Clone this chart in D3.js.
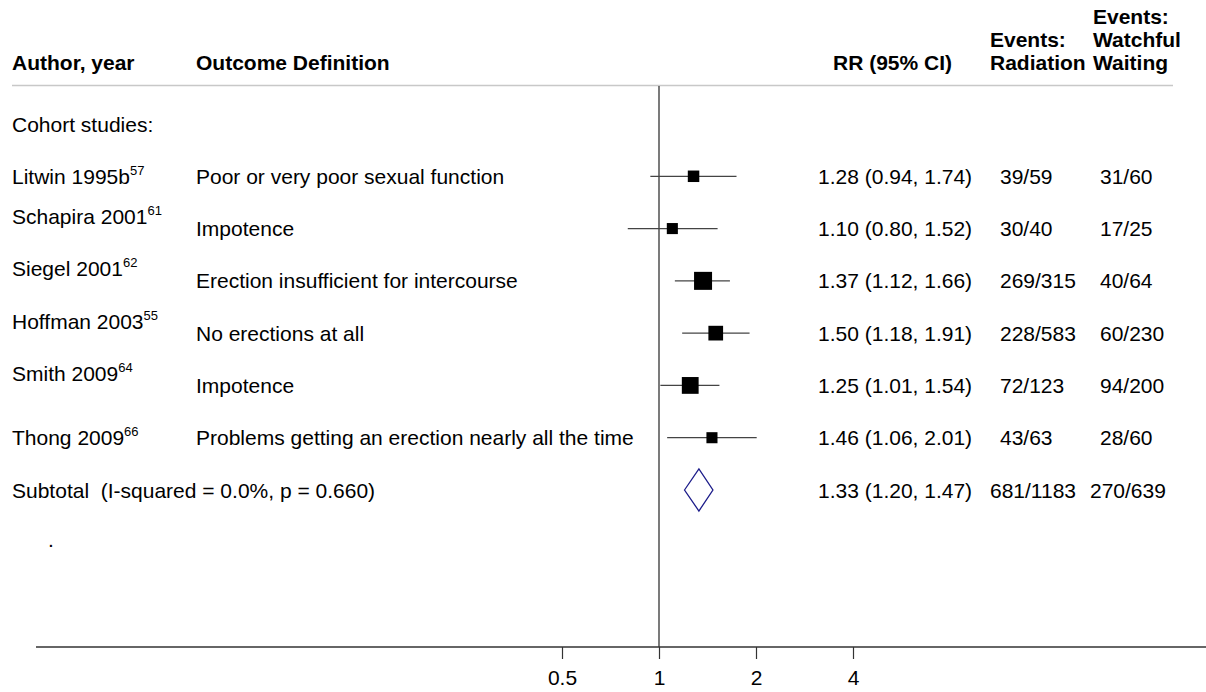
<!DOCTYPE html>
<html>
<head>
<meta charset="utf-8">
<script src="https://cdn.jsdelivr.net/npm/d3@7"></script>
<style>
  body { margin: 0; background: #fff; }
  svg text { font-family: "Liberation Sans", Arial, sans-serif; fill: #000; white-space: pre; }
</style>
</head>
<body>
<div id="chart"></div>
<script>
var width = 1206,
    height = 692

// study data
var authors = ["Litwin 1995b", "Schapira 2001", "Siegel 2001", "Hoffman 2003", "Smith 2009", "Thong 2009"]
var refs = ["57", "61", "62", "55", "64", "66"]
var outcomes = [
  "Poor or very poor sexual function",
  "Impotence",
  "Erection insufficient for intercourse",
  "No erections at all",
  "Impotence",
  "Problems getting an erection nearly all the time"
]
var rr = [1.28, 1.10, 1.37, 1.50, 1.25, 1.46]
var lower = [0.94, 0.80, 1.12, 1.18, 1.01, 1.06]
var upper = [1.74, 1.52, 1.66, 1.91, 1.54, 2.01]
var weights = [11.0, 10.2, 27.0, 18.0, 23.5, 10.2]
var eventsRadiation = ["39/59", "30/40", "269/315", "228/583", "72/123", "43/63"]
var eventsWaiting = ["31/60", "17/25", "40/64", "60/230", "94/200", "28/60"]

// pooled estimate
var subtotalLabel = "Subtotal  (I-squared = 0.0%, p = 0.660)"
var pooledRR = 1.33, pooledLower = 1.20, pooledUpper = 1.47
var pooledRadiation = "681/1183", pooledWaiting = "270/639"

var tickValues = [0.5, 1, 2, 4]

var svg = d3.select("#chart")
  .append("svg")
    .attr("width", width)
    .attr("height", height)

var x = d3.scaleLog()
  .domain([0.5, 4])
  .range([562, 853])

// row -1 = group label, 0..5 studies, 6 subtotal, 7 the stray dot
var y = d3.scaleLinear()
  .domain([-1, 6])
  .range([124, 490])

var box = d3.scaleSqrt()
  .domain([0, 27])
  .range([0, 18])

var fs = 21
var base = 7.5
var fmt = d3.format(".2f")

// column headers
var headers = [
  {x: 12, lines: ["Author, year"]},
  {x: 196, lines: ["Outcome Definition"]},
  {x: 833, lines: ["RR (95% CI)"]},
  {x: 990, lines: ["Events:", "Radiation"]},
  {x: 1093, lines: ["Events:", "Watchful", "Waiting"]}
]
headers.forEach(function(h) {
  h.lines.forEach(function(l, i) {
    svg.append("text")
      .attr("x", h.x)
      .attr("y", 70 - (h.lines.length - 1 - i) * 23)
      .style("font-size", fs + "px")
      .style("font-weight", "bold")
      .text(l)
  })
})

svg.append("line")
  .attr("x1", 12).attr("x2", 1173)
  .attr("y1", 85.5).attr("y2", 85.5)
  .attr("stroke", "#c8c8c8")
  .attr("stroke-width", 1.5)

// null line
svg.append("line")
  .attr("x1", x(1)).attr("x2", x(1))
  .attr("y1", 86).attr("y2", 647)
  .attr("stroke", "#333")
  .attr("stroke-width", 1.3)

// axis
svg.append("line")
  .attr("x1", 36).attr("x2", width)
  .attr("y1", 647).attr("y2", 647)
  .attr("stroke", "#333")
  .attr("stroke-width", 1.5)

var axis = svg.append("g")
  .attr("transform", "translate(0,647)")
  .call(d3.axisBottom(x)
    .tickValues(tickValues)
    .tickFormat(d3.format(""))
    .tickSize(12)
    .tickSizeOuter(0))
axis.select(".domain").remove()
axis.selectAll(".tick line").attr("stroke", "#333").attr("stroke-width", 1.2)
axis.selectAll(".tick text")
  .attr("y", 38)
  .attr("dy", null)
  .style("font-size", fs + "px")
  .style("font-family", "'Liberation Sans', Arial, sans-serif")
  .attr("fill", "#000")

svg.append("text")
  .attr("x", 12).attr("y", y(-1) + base)
  .style("font-size", fs + "px")
  .text("Cohort studies:")

var rows = authors.map(function(a, i) {
  return {author: a, ref: refs[i], outcome: outcomes[i], rr: rr[i], lo: lower[i], hi: upper[i],
          w: weights[i], rad: eventsRadiation[i], ww: eventsWaiting[i], i: i}
})

// author labels: the middle rows sit a little above their line
var lab = svg.selectAll("text.author")
  .data(rows)
  .enter()
  .append("text")
    .attr("class", "author")
    .attr("x", 12)
    .attr("y", function(d) { return y(d.i) + base - (d.i > 0 && d.i < 5 ? 12 : 0) })
    .style("font-size", fs + "px")
lab.append("tspan").text(function(d) { return d.author })
lab.append("tspan")
  .attr("dy", -9)
  .style("font-size", "13px")
  .text(function(d) { return d.ref })

svg.selectAll("text.outcome")
  .data(rows)
  .enter()
  .append("text")
    .attr("x", 196)
    .attr("y", function(d) { return y(d.i) + base })
    .style("font-size", fs + "px")
    .text(function(d) { return d.outcome })

svg.selectAll("text.ci")
  .data(rows)
  .enter()
  .append("text")
    .attr("x", 818)
    .attr("y", function(d) { return y(d.i) + base })
    .style("font-size", fs + "px")
    .text(function(d) { return fmt(d.rr) + " (" + fmt(d.lo) + ", " + fmt(d.hi) + ")" })

svg.selectAll("text.rad")
  .data(rows)
  .enter()
  .append("text")
    .attr("x", 1000)
    .attr("y", function(d) { return y(d.i) + base })
    .style("font-size", fs + "px")
    .text(function(d) { return d.rad })

svg.selectAll("text.ww")
  .data(rows)
  .enter()
  .append("text")
    .attr("x", 1100)
    .attr("y", function(d) { return y(d.i) + base })
    .style("font-size", fs + "px")
    .text(function(d) { return d.ww })

// confidence intervals
svg.selectAll("line.ci")
  .data(rows)
  .enter()
  .append("line")
    .attr("x1", function(d) { return x(d.lo) })
    .attr("x2", function(d) { return x(d.hi) })
    .attr("y1", function(d) { return y(d.i) })
    .attr("y2", function(d) { return y(d.i) })
    .attr("stroke", "#444")
    .attr("stroke-width", 1.3)

// weight boxes
svg.selectAll("rect.box")
  .data(rows)
  .enter()
  .append("rect")
    .attr("x", function(d) { return x(d.rr) - box(d.w) / 2 })
    .attr("y", function(d) { return y(d.i) - box(d.w) / 2 })
    .attr("width", function(d) { return box(d.w) })
    .attr("height", function(d) { return box(d.w) })
    .attr("fill", "#000")

// subtotal row
svg.append("text")
  .attr("x", 12).attr("y", y(6) + base)
  .style("font-size", fs + "px")
  .text(subtotalLabel)
svg.append("text")
  .attr("x", 818).attr("y", y(6) + base)
  .style("font-size", fs + "px")
  .text(fmt(pooledRR) + " (" + fmt(pooledLower) + ", " + fmt(pooledUpper) + ")")
svg.append("text")
  .attr("x", 990).attr("y", y(6) + base)
  .style("font-size", fs + "px")
  .text(pooledRadiation)
svg.append("text")
  .attr("x", 1090).attr("y", y(6) + base)
  .style("font-size", fs + "px")
  .text(pooledWaiting)

var cy = y(6)
svg.append("path")
  .attr("d", "M" + x(pooledLower) + "," + cy +
             "L" + x(pooledRR) + "," + (cy - 21) +
             "L" + x(pooledUpper) + "," + cy +
             "L" + x(pooledRR) + "," + (cy + 21) + "Z")
  .attr("fill", "#fff")
  .attr("stroke", "#1c1c8a")
  .attr("stroke-width", 1.3)

svg.append("text")
  .attr("x", 48).attr("y", y(7) + 5)
  .style("font-size", fs + "px")
  .text(".")
</script>
</body>
</html>
